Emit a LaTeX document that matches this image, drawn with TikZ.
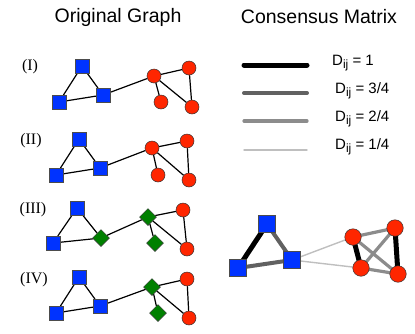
\documentclass[tikz,border=0pt]{standalone}
\usepackage{fontspec}
\setmainfont{Liberation Serif}
\setsansfont{Liberation Sans}
\usetikzlibrary{shapes.geometric,backgrounds}
\definecolor{nblue}{rgb}{0.0,0.2,1.0}
\definecolor{nred}{rgb}{1.0,0.15,0.0}
\definecolor{ngreen}{rgb}{0.0,0.5,0.0}
\tikzset{
  sq/.style={draw=black!70, line width=0.5pt, fill=nblue, minimum size=14pt, inner sep=0pt, outer sep=0pt},
  rc/.style={circle, draw=black!80, line width=0.5pt, fill=nred, minimum size=14pt, inner sep=0pt},
  dm/.style={diamond, draw=black!80, line width=0.5pt, fill=ngreen, minimum size=17pt, inner sep=0pt},
  bsq/.style={sq, minimum size=17pt},
  brc/.style={rc, minimum size=16.5pt},
  ed/.style={line width=1.2pt, black},
  lab/.style={font=\fontsize{16}{16}\selectfont, inner sep=0pt},
  ttl/.style={font=\sffamily\fontsize{19.5}{20}\selectfont, inner sep=0pt},
  leg/.style={font=\sffamily\fontsize{15}{15}\selectfont, inner sep=0pt, anchor=west},
  w1/.style={line width=5pt, black},
  w3/.style={line width=4pt, black!62},
  w2/.style={line width=3.2pt, black!45},
  w4/.style={line width=1.4pt, black!25},
}
\newcommand{\Dij}{D\raisebox{-0.35ex}{\fontsize{12}{12}\selectfont ij}}
\begin{document}
\begin{tikzpicture}[x=1pt, y=-1pt]
\useasboundingbox (0,0) rectangle (415,333);
% titles
\node[ttl] (t1) at (118,17) {Original Graph};
\node[ttl] (t2) at (319,17) {Consensus Matrix};
% labels
\node[lab] (l1) at (30,67) {(I)};
\node[lab] (l2) at (31,141) {(II)};
\node[lab] (l3) at (33,210) {(III)};
\node[lab] (l4) at (34,280) {(IV)};
% Graph I
\node[sq] (a1) at (82,66) {};
\node[sq] (a2) at (59,102) {};
\node[sq] (a3) at (103,95) {};
\node[rc] (a4) at (154,76) {};
\node[rc] (a5) at (189,68) {};
\node[rc] (a6) at (161,102) {};
\node[rc] (a7) at (192,107) {};
% Graph II
\node[sq] (b1) at (79,139) {};
\node[sq] (b2) at (56,175) {};
\node[sq] (b3) at (100,168) {};
\node[rc] (b4) at (152,148) {};
\node[rc] (b5) at (187,141) {};
\node[rc] (b6) at (158,175) {};
\node[rc] (b7) at (189,180) {};
% Graph III
\node[sq] (c1) at (77,208) {};
\node[sq] (c2) at (53,243) {};
\node[dm] (c3) at (101,238) {};
\node[dm] (c4) at (148,217) {};
\node[rc] (c5) at (183,210) {};
\node[dm] (c6) at (155,243) {};
\node[rc] (c7) at (187,249) {};
% Graph IV
\node[sq] (d1) at (79,277) {};
\node[sq] (d2) at (56,313) {};
\node[sq] (d3) at (100,306) {};
\node[dm] (d4) at (152,287) {};
\node[rc] (d5) at (187,279) {};
\node[dm] (d6) at (158,313) {};
\node[rc] (d7) at (189,318) {};
% consensus nodes
\node[bsq] (f1) at (267,224) {};
\node[bsq] (f2) at (238,268) {};
\node[bsq] (f3) at (292,260) {};
\node[brc] (f4) at (353,237) {};
\node[brc] (f5) at (395,228) {};
\node[brc] (f6) at (361,268) {};
\node[brc] (f7) at (398,274) {};
\begin{scope}[on background layer]
\draw[ed] (a1) -- (a2) (a1) -- (a3) (a2) -- (a3) (a3) -- (a4) (a4) -- (a5) (a4) -- (a6) (a4) -- (a7) (a5) -- (a7);
\draw[ed] (b1) -- (b2) (b1) -- (b3) (b2) -- (b3) (b3) -- (b4) (b4) -- (b5) (b4) -- (b6) (b4) -- (b7) (b5) -- (b7);
\draw[ed] (c1) -- (c2) (c1) -- (c3) (c2) -- (c3) (c3) -- (c4) (c4) -- (c5) (c4) -- (c6) (c4) -- (c7) (c5) -- (c7);
\draw[ed] (d1) -- (d2) (d1) -- (d3) (d2) -- (d3) (d3) -- (d4) (d4) -- (d5) (d4) -- (d6) (d4) -- (d7) (d5) -- (d7);
\draw[w4] (f3.center) -- (f4.center) (f3.center) -- (f6.center);
\draw[w2] (f4.center) -- (f5.center) (f4.center) -- (f7.center) (f6.center) -- (f5.center) (f6.center) -- (f7.center);
\draw[w3] (f1.center) -- (f3.center) (f2.center) -- (f3.center);
\draw[w1] (f1.center) -- (f2.center) (f4.center) -- (f6.center) (f5.center) -- (f7.center);
\end{scope}
% legend
\coordinate (k1a) at (244,65); \coordinate (k1b) at (307,65);
\coordinate (k2a) at (244,93); \coordinate (k2b) at (307,93);
\coordinate (k3a) at (244,121); \coordinate (k3b) at (307,121);
\coordinate (k4a) at (244,150); \coordinate (k4b) at (307,150);
\draw[w1, line cap=round] (k1a) -- (k1b);
\draw[w3, line cap=round] (k2a) -- (k2b);
\draw[w2, line cap=round] (k3a) -- (k3b);
\draw[w4, line cap=round] (k4a) -- (k4b);
\node[leg] (g1) at (332,63) {\Dij{} = 1};
\node[leg] (g2) at (335,91) {\Dij{} = 3/4};
\node[leg] (g3) at (335,119) {\Dij{} = 2/4};
\node[leg] (g4) at (335,147) {\Dij{} = 1/4};
\end{tikzpicture}
\end{document}
